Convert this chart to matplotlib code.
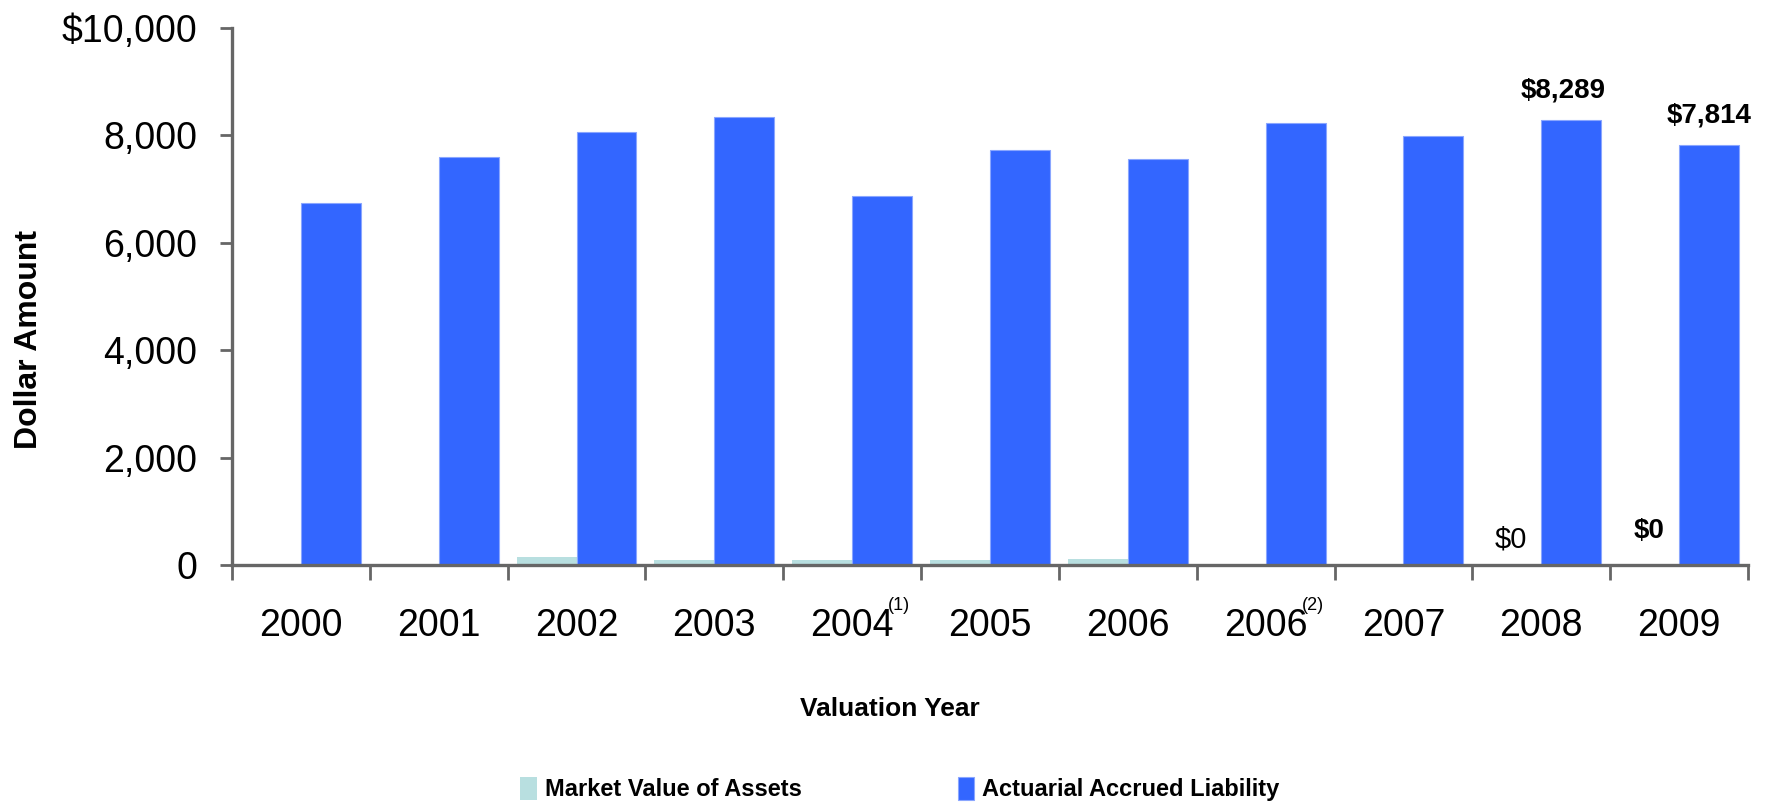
import matplotlib
matplotlib.use("Agg")
import matplotlib.pyplot as plt
import numpy as np

years = ["2000", "2001", "2002", "2003", "2004", "2005", "2006", "2006", "2007", "2008", "2009"]
footnotes = {4: "(1)", 7: "(2)"}
market_value = [0, 0, 150, 85, 85, 85, 110, 0, 0, 0, 0]
accrued_liability = [6735, 7590, 8070, 8340, 6880, 7720, 7570, 8240, 7990, 8289, 7814]
yticks = [0, 2000, 4000, 6000, 8000, 10000]
ytick_labels = ["0", "2,000", "4,000", "6,000", "8,000", "$10,000"]

light = "#B8DFE0"
blue = "#3366FF"
grey = "#666666"

plt.rcParams["font.family"] = ["Liberation Sans", "DejaVu Sans"]

fig = plt.figure(figsize=(17.68, 8.02), dpi=100)
ax = fig.add_axes([0.1312, 0.2955, 0.8575, 0.6695])

x = np.arange(len(years))
w = 0.435
ax.bar(x - w / 2, market_value, w, color=light, label="Market Value of Assets")
ax.bar(x + w / 2, accrued_liability, w, color=blue, edgecolor="#8AA6FF",
       linewidth=0.8, label="Actuarial Accrued Liability")

ax.set_xlim(-0.5, len(years) - 0.5)
ax.set_ylim(0, 10000)

for side in ["top", "right"]:
    ax.spines[side].set_visible(False)
for side in ["left", "bottom"]:
    ax.spines[side].set_color(grey)
    ax.spines[side].set_linewidth(2.4)

ax.set_yticks(yticks)
ax.set_yticklabels(ytick_labels)
ax.tick_params(axis="y", length=9, width=2, color=grey, pad=16, labelsize=27)

ax.set_xticks(x)
ax.set_xticklabels(years)
ax.set_xticks(np.arange(-0.5, len(years), 1), minor=True)
ax.tick_params(axis="x", which="major", length=0, pad=31, labelsize=27)
ax.tick_params(axis="x", which="minor", length=11, width=2, color=grey)

for i, note in footnotes.items():
    ax.annotate(note, xy=(i, 0), xycoords=("data", "axes fraction"),
                xytext=(34, -29), textcoords="offset points",
                ha="center", va="center", fontsize=13)

# value labels on the last two years
ax.annotate("$8,289", xy=(9 + w / 2, accrued_liability[9]), xytext=(-6, 12),
            textcoords="offset points", ha="center", va="bottom",
            fontsize=20, fontweight="bold")
ax.annotate("$7,814", xy=(10 + w / 2, accrued_liability[10]), xytext=(0, 12),
            textcoords="offset points", ha="center", va="bottom",
            fontsize=20, fontweight="bold")
ax.annotate("$0", xy=(9 - w / 2, market_value[9]), xytext=(0, 8),
            textcoords="offset points", ha="center", va="bottom", fontsize=21)
ax.annotate("$0", xy=(10 - w / 2, market_value[10]), xytext=(0, 15),
            textcoords="offset points", ha="center", va="bottom",
            fontsize=20, fontweight="bold")

ax.set_ylabel("Dollar Amount", fontsize=23, fontweight="bold")
ax.yaxis.set_label_coords(-0.124, 0.42)
ax.set_xlabel("Valuation Year", fontsize=19, fontweight="bold")
ax.xaxis.set_label_coords(0.434, -0.245)

fig.legend(loc="center", bbox_to_anchor=(0.509, 0.016), ncol=2, frameon=False,
           prop={"weight": "bold", "size": 17},
           handlelength=0.7, handleheight=1.1, handletextpad=0.35,
           columnspacing=6.6)

fig.savefig("out.png", dpi=100)
